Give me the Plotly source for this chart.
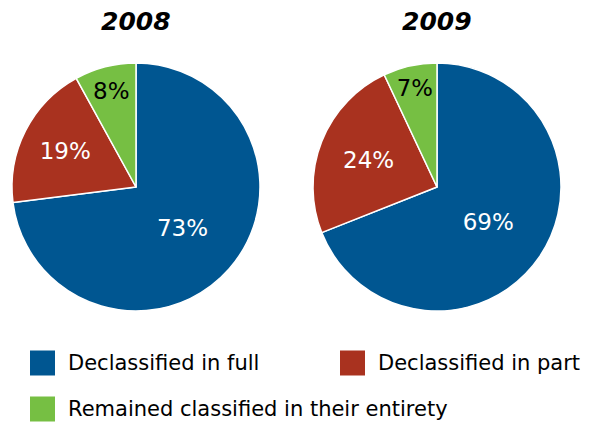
import plotly.graph_objects as go

categories = ["Declassified in full", "Declassified in part", "Remained classified in their entirety"]
years = ["2008", "2009"]
values_2008 = [73, 19, 8]
values_2009 = [69, 24, 7]
colors = ["#005691", "#A9321F", "#76BF43"]
text_colors = ["white", "white", "black"]

FONT = "DejaVu Sans"
W, H = 592, 423

fig = go.Figure()

domains = [
    dict(x=[12 / W, 260 / W], y=[1 - 311 / H, 1 - 63 / H]),
    dict(x=[313 / W, 561 / W], y=[1 - 311 / H, 1 - 63 / H]),
]

for yr, vals, dom in zip(years, [values_2008, values_2009], domains):
    fig.add_trace(go.Pie(
        labels=categories,
        values=vals,
        sort=False,
        direction="clockwise",
        rotation=0,
        domain=dom,
        marker=dict(colors=colors, line=dict(color="white", width=1.5)),
        texttemplate="%{value}%",
        textposition="inside",
        insidetextorientation="horizontal",
        textfont=dict(family=FONT, size=23, color=text_colors),
        showlegend=False,
        hoverinfo="label+value",
        name=yr,
    ))
    cx = (dom["x"][0] + dom["x"][1]) / 2
    fig.add_annotation(
        x=cx, y=1 - 22 / H, xref="paper", yref="paper",
        text="<b><i>" + yr + "</i></b>", showarrow=False,
        font=dict(family=FONT, size=25, color="black"),
        xanchor="center", yanchor="middle",
    )

# manual legend
legend_pos = [(30, 363), (340, 363), (30, 409)]
for cat, col, (lx, ly) in zip(categories, colors, legend_pos):
    fig.add_shape(
        type="rect", xref="paper", yref="paper",
        x0=lx / W, x1=(lx + 25) / W,
        y0=1 - (ly + 12.5) / H, y1=1 - (ly - 12.5) / H,
        fillcolor=col, line=dict(width=0),
    )
    fig.add_annotation(
        x=(lx + 36) / W, y=1 - ly / H, xref="paper", yref="paper",
        text=cat, showarrow=False,
        font=dict(family=FONT, size=21, color="black"),
        xanchor="left", yanchor="middle",
    )

fig.update_layout(
    width=W, height=H,
    margin=dict(l=0, r=0, t=0, b=0),
    paper_bgcolor="white",
    plot_bgcolor="white",
    font=dict(family=FONT),
)

fig.write_html(
    "out.html",
    config={"displayModeBar": False},
    post_script="document.body.style.margin='0';document.body.style.padding='0';document.body.style.overflow='hidden';",
)
